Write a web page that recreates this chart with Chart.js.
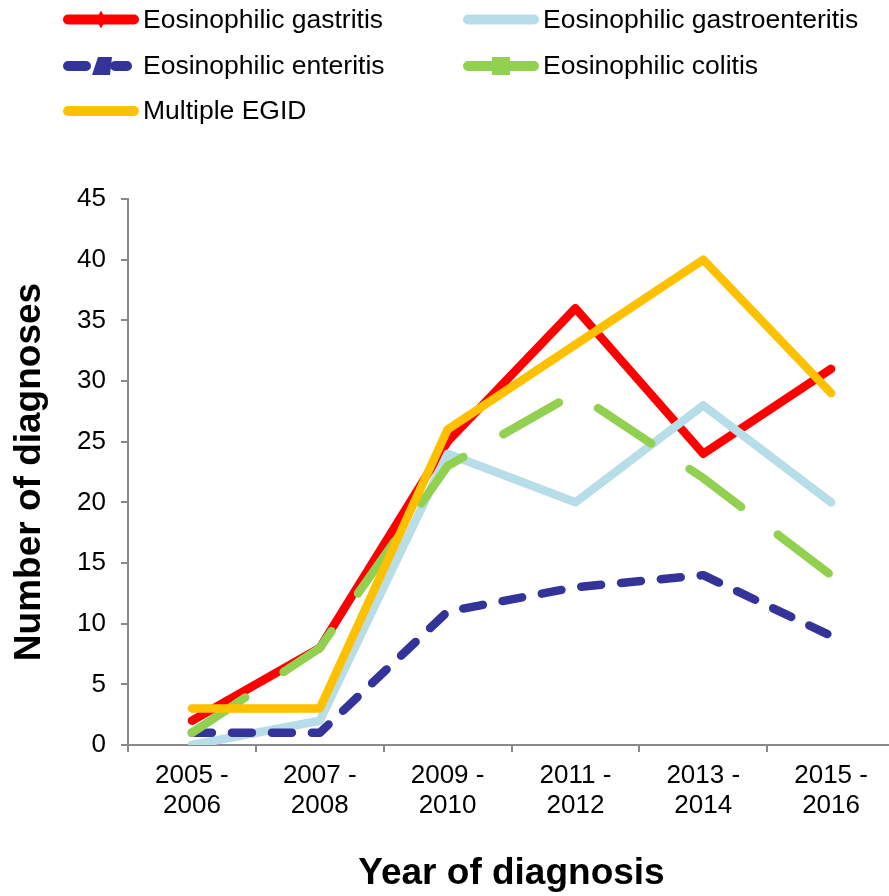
<!DOCTYPE html>
<html>
<head>
<meta charset="utf-8">
<script src="https://cdn.jsdelivr.net/npm/chart.js@4.4.1/dist/chart.umd.min.js"></script>
<style>
  html, body { margin: 0; padding: 0; background: #fff; overflow: hidden; }
  #wrap { width: 900px; height: 896px; }
</style>
</head>
<body>
<div id="wrap"><canvas id="egid" width="900" height="896"></canvas></div>
<script>
// Diagnoses per two-year period, by EGID subtype
const yearRanges = [
  ['2005 -', '2006'],
  ['2007 -', '2008'],
  ['2009 -', '2010'],
  ['2011 -', '2012'],
  ['2013 -', '2014'],
  ['2015 -', '2016']
];
const seriesNames = [
  'Eosinophilic gastritis',
  'Eosinophilic gastroenteritis',
  'Eosinophilic enteritis',
  'Eosinophilic colitis',
  'Multiple EGID'
];
const gastritis       = [2, 8, 25, 36, 24, 31];
const gastroenteritis = [0, 2, 24, 20, 28, 20];
const enteritis       = [1, 1, 11, 13, 14, 9];
const colitis         = [1, 8, 23, 29, 22, 14];
const multipleEgid    = [3, 3, 26, 33, 40, 29];
const yTickValues     = [0, 5, 10, 15, 20, 25, 30, 35, 40, 45];

const FONT = '"Liberation Sans", Arial, sans-serif';
const AXIS_GREY = '#898989';

function lineSet(label, data, color, extra, legendMark) {
  return Object.assign({
    label, data,
    borderColor: color,
    backgroundColor: color,
    borderWidth: 8.5,
    pointRadius: 0,
    pointHoverRadius: 0,
    tension: 0,
    fill: false,
    borderCapStyle: 'round',
    borderJoinStyle: 'round',
    legendMark
  }, extra);
}

// Legend drawn as a two-column grid above the plot
const gridLegend = {
  id: 'gridLegend',
  afterDraw(chart) {
    const ctx = chart.ctx;
    const cols = [63, 463];
    const rows = [19.5, 66, 111];
    const sampleLen = 76;
    chart.data.datasets.forEach((ds, i) => {
      const x0 = cols[i % 2];
      const y = rows[Math.floor(i / 2)];
      const x1 = x0 + sampleLen;
      const cx = (x0 + x1) / 2;
      ctx.save();
      ctx.strokeStyle = ds.borderColor;
      ctx.fillStyle = ds.borderColor;
      ctx.lineWidth = 10;
      ctx.lineCap = 'round';
      ctx.beginPath();
      if (ds.legendMark === 'triangle') {
        ctx.moveTo(x0 + 5, y); ctx.lineTo(x0 + 23, y);
        ctx.moveTo(x0 + 52, y); ctx.lineTo(x0 + 64, y);
      } else {
        ctx.moveTo(x0 + 5, y); ctx.lineTo(x1 - 5, y);
      }
      ctx.stroke();
      ctx.beginPath();
      if (ds.legendMark === 'diamond') {
        ctx.moveTo(cx, y - 9); ctx.lineTo(cx + 5, y); ctx.lineTo(cx, y + 9); ctx.lineTo(cx - 5, y);
        ctx.closePath(); ctx.fill();
      } else if (ds.legendMark === 'triangle') {
        const tx = x0 + 39;
        ctx.moveTo(tx - 4, y - 9); ctx.lineTo(tx + 10, y - 9); ctx.lineTo(tx + 8, y + 9); ctx.lineTo(tx - 10, y + 9);
        ctx.closePath(); ctx.fill();
      } else if (ds.legendMark === 'square') {
        ctx.rect(cx - 9, y - 9, 18, 18); ctx.fill();
      }
      ctx.fillStyle = '#000';
      ctx.font = '26.5px ' + FONT;
      ctx.textBaseline = 'middle';
      ctx.textAlign = 'left';
      ctx.fillText(ds.label, x0 + 80, y + 1);
      ctx.restore();
    });
  }
};

new Chart(document.getElementById('egid'), {
  type: 'line',
  data: {
    labels: yearRanges,
    datasets: [
      lineSet(seriesNames[0], gastritis, '#FF0000', { order: 4 }, 'diamond'),
      lineSet(seriesNames[1], gastroenteritis, '#B7DEE8', { order: 3 }, 'none'),
      lineSet(seriesNames[2], enteritis, '#333399', { order: 2, borderDash: [20, 20] }, 'triangle'),
      lineSet(seriesNames[3], colitis, '#92D050', { order: 1, borderDash: [64, 46] }, 'square'),
      lineSet(seriesNames[4], multipleEgid, '#FFC000', { order: 0 }, 'none')
    ]
  },
  options: {
    responsive: false,
    animation: false,
    devicePixelRatio: 1,
    events: [],
    layout: { padding: { top: 199, right: 5, left: 0, bottom: 0 } },
    plugins: { legend: { display: false }, tooltip: { enabled: false } },
    scales: {
      x: {
        offset: true,
        grid: { offset: true, drawOnChartArea: false, drawTicks: true, tickLength: 7, color: AXIS_GREY, lineWidth: 2 },
        border: { color: AXIS_GREY, width: 2 },
        ticks: { color: '#000', font: { family: FONT, size: 26, lineHeight: 1.15 }, padding: 9, maxRotation: 0, autoSkip: false },
        title: { display: true, text: 'Year of diagnosis', color: '#000', font: { family: FONT, size: 37, weight: 'bold' }, padding: { top: 2, bottom: 0 } },
        afterFit(scale) { scale.height = 151; }
      },
      y: {
        min: 0, max: 45,
        afterBuildTicks(scale) { scale.ticks = yTickValues.map(v => ({ value: v })); },
        grid: { drawOnChartArea: false, drawTicks: true, tickLength: 7, color: AXIS_GREY, lineWidth: 2 },
        border: { color: AXIS_GREY, width: 2 },
        ticks: { color: '#000', font: { family: FONT, size: 26 }, padding: 15 },
        title: { display: true, text: 'Number of diagnoses', color: '#000', font: { family: FONT, size: 37, weight: 'bold' }, padding: { top: 8, bottom: 0 } },
        afterFit(scale) { scale.width = 128; }
      }
    }
  },
  plugins: [gridLegend]
});
</script>
</body>
</html>
